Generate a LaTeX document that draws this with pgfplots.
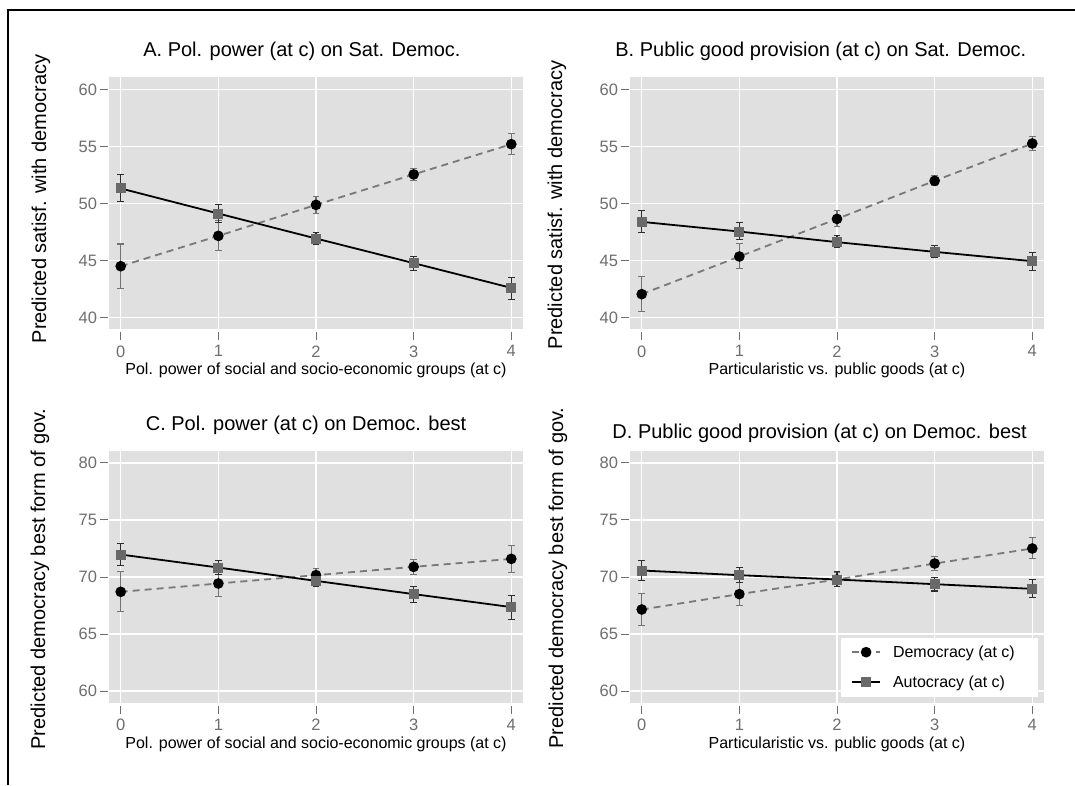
\documentclass[border=0pt]{standalone}
\usepackage{fontspec}
\setmainfont{Liberation Sans}
\usepackage{pgfplots}
\usepackage{pgfplotstable}
\pgfplotsset{compat=1.18}

\definecolor{bggray}{RGB}{224,224,224}
\definecolor{tickgray}{RGB}{110,110,110}
\definecolor{demline}{RGB}{120,120,120}
\definecolor{demci}{RGB}{115,115,115}
\definecolor{autmark}{RGB}{105,105,105}
\definecolor{autci}{RGB}{45,45,45}

% x  d  dlo  dhi  a  alo  ahi
\pgfplotstableread{
x d dlo dhi a alo ahi
0 44.50 42.55 46.45 51.32 50.15 52.54
1 47.16 45.85 48.47 49.12 48.30 49.94
2 49.88 49.12 50.64 46.93 46.37 47.46
3 52.55 52.05 53.07 44.77 44.15 45.32
4 55.20 54.33 56.14 42.60 41.60 43.50
}\tabA
\pgfplotstableread{
x d dlo dhi a alo ahi
0 42.05 40.50 43.57 48.39 47.43 49.42
1 45.35 44.27 46.49 47.54 46.84 48.30
2 48.65 47.95 49.36 46.61 46.11 47.16
3 51.99 51.55 52.43 45.76 45.23 46.29
4 55.26 54.68 55.91 44.94 44.15 45.70
}\tabB
\pgfplotstableread{
x d dlo dhi a alo ahi
0 68.70 66.95 70.45 71.97 71.04 72.93
1 69.43 68.32 70.54 70.83 70.22 71.45
2 70.16 69.60 70.72 69.66 69.17 70.16
3 70.89 70.22 71.53 68.50 67.80 69.20
4 71.59 70.42 72.79 67.36 66.31 68.41
}\tabC
\pgfplotstableread{
x d dlo dhi a alo ahi
0 67.15 65.78 68.55 70.57 69.72 71.42
1 68.50 67.53 69.49 70.16 69.49 70.80
2 69.78 69.20 70.39 69.78 69.20 70.45
3 71.18 70.54 71.77 69.37 68.77 69.96
4 72.50 71.59 73.43 68.96 68.18 69.78
}\tabD

\pgfplotsset{
  panel/.style={
    scale only axis, width=414pt, height=252pt,
    anchor=south west,
    xmin=-0.12, xmax=4.12, xtick={0,1,2,3,4},
    axis background/.style={fill=bggray},
    axis line style={draw=none},
    xtick pos=bottom, ytick pos=left,
    grid=major, grid style={white, line width=1.5pt},
    tick align=outside, major tick length=7.5pt,
    tick style={tickgray, line width=1pt},
    xtick style={yshift=-3pt}, ytick style={xshift=-1.5pt},
    ticklabel style={font=\fontsize{16.5}{19}\selectfont, text=tickgray},
    xticklabel style={yshift=-5pt},
    yticklabel style={xshift=-1pt},
    /pgf/number format/assume math mode=true,
    title style={font=\fontsize{20}{24}\selectfont, anchor=center},
    xlabel style={font=\fontsize{16}{19}\selectfont, anchor=center},
    ylabel style={font=\fontsize{20}{24}\selectfont, anchor=center},
    clip=false,
    legend image code/.code={\draw[mark repeat=2,mark phase=2,##1] plot coordinates {(0pt,0pt) (14pt,0pt) (28pt,0pt)};},
  },
  sat/.style={ymin=38.95, ymax=61.05, ytick={40,45,50,55,60}},
  best/.style={ymin=58.95, ymax=81.05, ytick={60,65,70,75,80}},
  dem/.style={color=demline, dash pattern=on 7pt off 5pt, line width=1.8pt,
    mark=*, mark size=4.4pt, mark options={solid, fill=black, draw=black},
    error bars/.cd, y dir=both, y explicit,
    error bar style={solid, demci, line width=1.1pt},
    error mark options={rotate=90, solid, demci, mark size=3.3pt, line width=1.1pt}},
  aut/.style={color=black, solid, line width=1.8pt,
    mark=square*, mark size=4.1pt, mark options={fill=autmark, draw=autmark},
    error bars/.cd, y dir=both, y explicit,
    error bar style={autci, line width=1.1pt},
    error mark options={rotate=90, autci, mark size=3.3pt, line width=1.1pt}},
}

\begin{document}
\begin{tikzpicture}
\useasboundingbox (0,0) rectangle (1075pt,785pt);
\draw[line width=2pt] (7.5pt,0pt) -- (7.5pt,775pt) -- (1075pt,775pt);

% Panel A
\begin{axis}[panel, sat, at={(109pt,455.5pt)},
  title={A. Pol. power (at c) on Sat. Democ.},
  title style={at={(axis description cs:0.466,1.080)}},
  xlabel={Pol. power of social and socio-economic groups (at c)},
  xlabel style={at={(axis description cs:0.5,-0.162)}},
  ylabel={Predicted satisf. with democracy},
  ylabel style={at={(axis description cs:-0.1643,0.518)}}]
\addplot+[dem] table[x=x, y=d, y error plus expr=\thisrow{dhi}-\thisrow{d}, y error minus expr=\thisrow{d}-\thisrow{dlo}] {\tabA};
\addplot+[aut] table[x=x, y=a, y error plus expr=\thisrow{ahi}-\thisrow{a}, y error minus expr=\thisrow{a}-\thisrow{alo}] {\tabA};
\end{axis}

% Panel B
\begin{axis}[panel, sat, at={(630pt,455.5pt)},
  title={B. Public good provision (at c) on Sat. Democ.},
  title style={at={(axis description cs:0.461,1.080)}},
  xlabel={Particularistic vs. public goods (at c)},
  xlabel style={at={(axis description cs:0.5,-0.162)}},
  ylabel={Predicted satisf. with democracy},
  ylabel style={at={(axis description cs:-0.1763,0.494)}}]
\addplot+[dem] table[x=x, y=d, y error plus expr=\thisrow{dhi}-\thisrow{d}, y error minus expr=\thisrow{d}-\thisrow{dlo}] {\tabB};
\addplot+[aut] table[x=x, y=a, y error plus expr=\thisrow{ahi}-\thisrow{a}, y error minus expr=\thisrow{a}-\thisrow{alo}] {\tabB};
\end{axis}

% Panel C
\begin{axis}[panel, best, at={(109pt,82pt)},
  title={C. Pol. power (at c) on Democ. best},
  title style={at={(axis description cs:0.476,1.079)}},
  xlabel={Pol. power of social and socio-economic groups (at c)},
  xlabel style={at={(axis description cs:0.5,-0.163)}},
  ylabel={Predicted democracy best form of gov.},
  ylabel style={at={(axis description cs:-0.1667,0.492)}}]
\addplot+[dem] table[x=x, y=d, y error plus expr=\thisrow{dhi}-\thisrow{d}, y error minus expr=\thisrow{d}-\thisrow{dlo}] {\tabC};
\addplot+[aut] table[x=x, y=a, y error plus expr=\thisrow{ahi}-\thisrow{a}, y error minus expr=\thisrow{a}-\thisrow{alo}] {\tabC};
\end{axis}

% Panel D
\begin{axis}[panel, best, at={(630pt,82pt)},
  title={D. Public good provision (at c) on Democ. best},
  title style={at={(axis description cs:0.458,1.045)}},
  xlabel={Particularistic vs. public goods (at c)},
  xlabel style={at={(axis description cs:0.5,-0.163)}},
  ylabel={Predicted democracy best form of gov.},
  ylabel style={at={(axis description cs:-0.174,0.496)}},
  legend cell align=left,
  legend style={at={(0.9855,0.0238)}, anchor=south east, draw=none, fill=white,
    font=\fontsize{16}{19}\selectfont, inner xsep=10pt, inner ysep=8pt,
    row sep=17pt, nodes={inner sep=0pt},
    /tikz/every odd column/.append style={column sep=12pt}}]
\addplot+[dem] table[x=x, y=d, y error plus expr=\thisrow{dhi}-\thisrow{d}, y error minus expr=\thisrow{d}-\thisrow{dlo}] {\tabD};
\addlegendentry{Democracy (at c)\hspace*{13pt}}
\addplot+[aut] table[x=x, y=a, y error plus expr=\thisrow{ahi}-\thisrow{a}, y error minus expr=\thisrow{a}-\thisrow{alo}] {\tabD};
\addlegendentry{Autocracy (at c)}
\end{axis}
\end{tikzpicture}
\end{document}
